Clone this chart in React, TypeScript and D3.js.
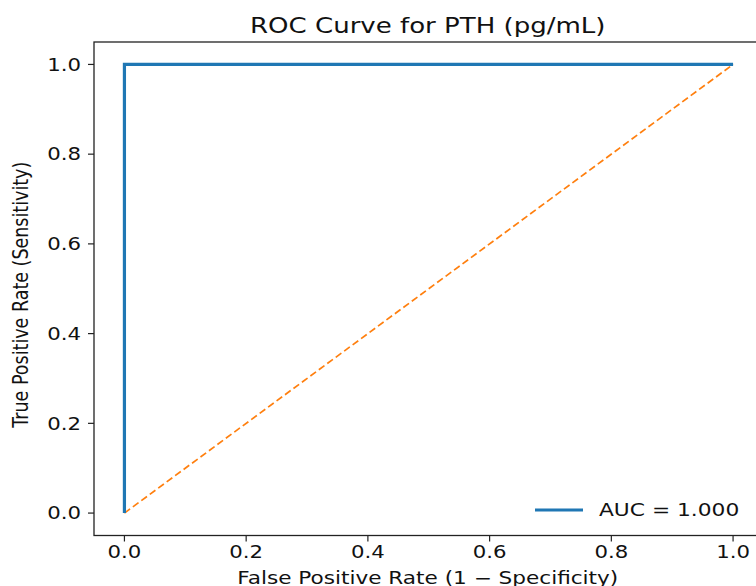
import React from "react";
import * as d3 from "d3";

const fpr = [0, 0, 0, 1];
const tpr = [0, 0.0, 1, 1];
const diagX = [0, 1];
const diagY = [0, 1];
const xTicks = [0, 0.2, 0.4, 0.6, 0.8, 1.0];
const yTicks = [0, 0.2, 0.4, 0.6, 0.8, 1.0];
const title = "ROC Curve for PTH (pg/mL)";
const xLabel = "False Positive Rate (1 \u2212 Specificity)";
const yLabel = "True Positive Rate (Sensitivity)";
const legendLabel = "AUC = 1.000";

const SX = 1.25;
function sx(cx: number, s = SX) {
  return `translate(${cx},0) scale(${s},1) translate(${-cx},0)`;
}

export default function App() {
  const W = 756, H = 586;
  const left = 94, right = 763.5, top = 42, bottom = 535.5;
  const x = d3.scaleLinear().domain([-0.05, 1.05]).range([left, right]);
  const y = d3.scaleLinear().domain([-0.05, 1.05]).range([bottom, top]);
  const roc = d3.line<number>().x((_, i) => x(fpr[i])).y((_, i) => y(tpr[i]));
  const diag = d3.line<number>().x((_, i) => x(diagX[i])).y((_, i) => y(diagY[i]));
  const font = "DejaVu Sans";
  const fs = 17;
  const cx = (left + right) / 2 - 1;
  return (
    <div style={{ position: "fixed", left: 0, top: 0 }}>
      <svg width={W} height={H} style={{ display: "block", background: "#fff" }} fontFamily={font}>
        <text x={cx} y={33} textAnchor="middle" fontSize={20.5} fill="#111" transform={sx(cx, 1.27)}>{title}</text>
        <path d={diag(diagX) || ""} fill="none" stroke="#ff7f0e" strokeWidth={1.7} strokeDasharray="7,3.5" />
        <path d={roc(fpr) || ""} fill="none" stroke="#1f77b4" strokeWidth={3.2} strokeLinejoin="miter" />
        <rect x={left} y={top} width={right - left} height={bottom - top} fill="none" stroke="#222" strokeWidth={1.3} />
        {xTicks.map((t) => (
          <g key={"x" + t}>
            <line x1={x(t)} x2={x(t)} y1={bottom} y2={bottom + 6} stroke="#222" strokeWidth={1.2} />
            <text x={x(t)} y={bottom + 23} textAnchor="middle" fontSize={fs} fill="#111" transform={sx(x(t))}>{t.toFixed(1)}</text>
          </g>
        ))}
        {yTicks.map((t) => (
          <g key={"y" + t}>
            <line x1={left - 6} x2={left} y1={y(t)} y2={y(t)} stroke="#222" strokeWidth={1.2} />
            <text x={left - 13} y={y(t) + 6.2} textAnchor="end" fontSize={fs} fill="#111" transform={sx(left - 13)}>{t.toFixed(1)}</text>
          </g>
        ))}
        <text x={cx} y={584} textAnchor="middle" fontSize={fs} fill="#111" transform={sx(cx, 1.27)}>{xLabel}</text>
        <text transform={`translate(28,${(top + bottom) / 2 + 6}) rotate(-90) scale(1,${SX})`} textAnchor="middle" fontSize={17.5} fill="#111">{yLabel}</text>
        <line x1={535} x2={583} y1={510} y2={510} stroke="#1f77b4" strokeWidth={3.2} />
        <text x={599} y={516} fontSize={fs} fill="#111" transform={sx(599, 1.28)}>{legendLabel}</text>
      </svg>
    </div>
  );
}
